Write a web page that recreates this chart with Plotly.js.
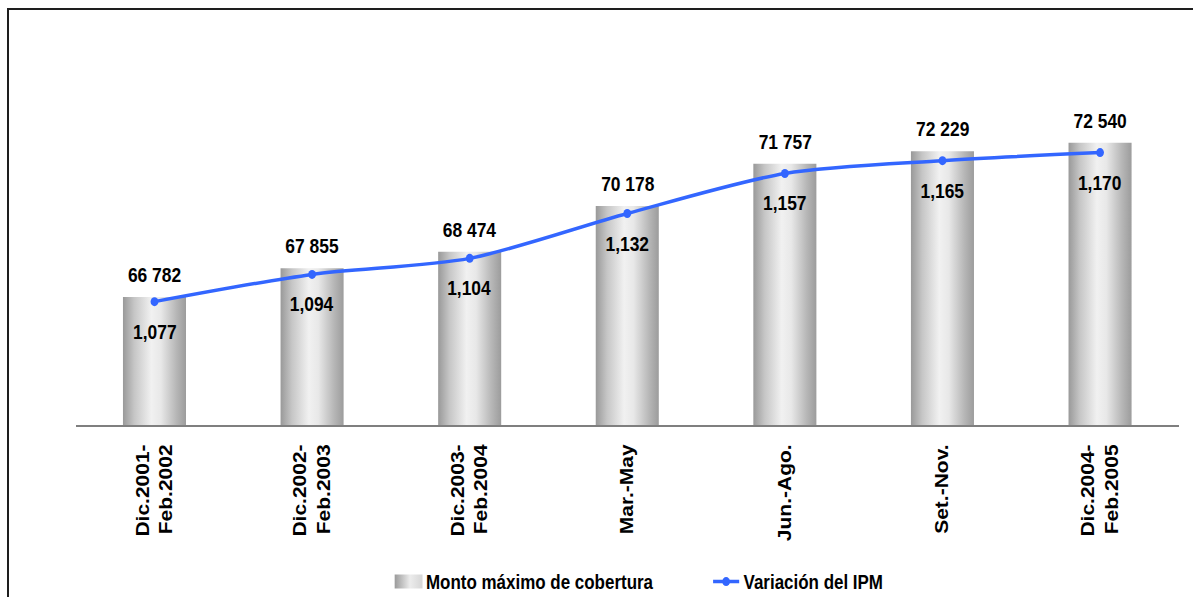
<!DOCTYPE html>
<html>
<head>
<meta charset="utf-8">
<script src="https://cdn.plot.ly/plotly-3.0.1.min.js"></script>
<style>
  html, body { margin: 0; padding: 0; background: #fff; overflow: hidden; }
  #frame { position: absolute; left: 7px; top: 8px; width: 1300px; height: 700px;
           border-left: 2px solid #1e1e1e; border-top: 2px solid #1e1e1e; pointer-events: none; z-index: 2; }
  #wrap { position: absolute; left: 0; top: 0; width: 1371px; height: 597px;
          transform: scaleX(0.87); transform-origin: 0 0; }
</style>
</head>
<body>
<div id="frame"></div>
<div id="wrap"><div id="chart"></div></div>
<script>
// Periods on the horizontal axis
const periods = [
  "Dic.2001-<br>Feb.2002",
  "Dic.2002-<br>Feb.2003",
  "Dic.2003-<br>Feb.2004",
  "Mar.-May",
  "Jun.-Ago.",
  "Set.-Nov.",
  "Dic.2004-<br>Feb.2005"
];
// Maximum coverage amount per period
const montoMaximo = [66782, 67855, 68474, 70178, 71757, 72229, 72540];
// IPM variation index per period
const variacionIPM = [1.077, 1.094, 1.104, 1.132, 1.157, 1.165, 1.170];

const seriesNames = ["Monto máximo de cobertura", "Variación del IPM"];

const fmtMonto = v => String(v).replace(/\B(?=(\d{3})+(?!\d))/g, " ");
const fmtIPM = v => v.toFixed(3).replace(".", ",");

const FONT = "'Liberation Sans', Arial, sans-serif";
const LINE_BLUE = "#3366ff";

const traces = [
  {
    type: "bar",
    name: seriesNames[0],
    x: periods,
    y: montoMaximo,
    width: 0.4,
    marker: { color: "#c8c8c8", line: { width: 0 } },
    hoverinfo: "skip"
  },
  {
    type: "scatter",
    mode: "lines+markers",
    name: seriesNames[1],
    x: periods,
    y: variacionIPM,
    yaxis: "y2",
    line: { color: LINE_BLUE, width: 3.5, shape: "spline", smoothing: 0.8 },
    marker: { color: LINE_BLUE, size: 9 },
    hoverinfo: "skip"
  }
];

const annotations = [];
periods.forEach((p, i) => {
  annotations.push({
    x: p, y: montoMaximo[i], xref: "x", yref: "y",
    text: fmtMonto(montoMaximo[i]), showarrow: false,
    yanchor: "middle", yshift: 22,
    font: { family: FONT, size: 20, weight: 700, color: "#000" }
  });
  annotations.push({
    x: p, y: variacionIPM[i], xref: "x", yref: "y2",
    text: fmtIPM(variacionIPM[i]), showarrow: false,
    yanchor: "middle", yshift: -30,
    font: { family: FONT, size: 20, weight: 700, color: "#000" }
  });
});

const layout = {
  width: 1371,
  height: 597,
  margin: { l: 87, r: 16, t: 77, b: 172, autoexpand: false },
  paper_bgcolor: "rgba(0,0,0,0)",
  plot_bgcolor: "rgba(0,0,0,0)",
  font: { family: FONT, color: "#000" },
  showlegend: true,
  xaxis: {
    type: "category",
    range: [-0.5, 6.5],
    showline: true,
    linecolor: "#7f7f7f",
    linewidth: 2,
    showgrid: false,
    zeroline: false,
    ticks: "",
    tickangle: -90,
    ticklabelstandoff: 9,
    automargin: false,
    tickfont: { family: FONT, size: 21, weight: 700, color: "#000" }
  },
  yaxis: { range: [62000, 75000], visible: false, fixedrange: true },
  yaxis2: { range: [1.0, 1.2172], overlaying: "y", side: "right", visible: false, fixedrange: true },
  legend: {
    orientation: "h",
    x: 0.286, xanchor: "left",
    y: -0.451, yanchor: "middle",
    entrywidth: 320,
    font: { family: FONT, size: 19.5, weight: 700, color: "#000" },
    itemclick: false, itemdoubleclick: false
  },
  annotations: annotations
};

Plotly.newPlot("chart", traces, layout, { staticPlot: true, displayModeBar: false }).then(gd => {
  // Shaded cylinder look for the bars and a matching legend swatch
  const ns = "http://www.w3.org/2000/svg";
  const svg = gd.querySelector(".main-svg");
  let defs = svg.querySelector("defs");
  if (!defs) { defs = document.createElementNS(ns, "defs"); svg.insertBefore(defs, svg.firstChild); }
  const addGrad = (id, stops) => {
    const g = document.createElementNS(ns, "linearGradient");
    g.setAttribute("id", id);
    g.setAttribute("x1", "0"); g.setAttribute("y1", "0");
    g.setAttribute("x2", "1"); g.setAttribute("y2", "0");
    stops.forEach(([o, c]) => {
      const s = document.createElementNS(ns, "stop");
      s.setAttribute("offset", o); s.setAttribute("stop-color", c);
      g.appendChild(s);
    });
    defs.appendChild(g);
  };
  addGrad("barShade", [["0", "#999999"], ["0.18", "#c6c6c6"], ["0.45", "#f1f1f1"], ["0.6", "#e8e8e8"], ["0.85", "#b6b6b6"], ["1", "#9c9c9c"]]);
  addGrad("legendShade", [["0", "#9a9a9a"], ["0.55", "#ececec"], ["1", "#d6d6d6"]]);
  gd.querySelectorAll(".barlayer .point path").forEach(p => { p.style.fill = "url(#barShade)"; });
  gd.querySelectorAll(".legend .traces").forEach((t, i) => {
    if (i === 0) {
      t.querySelectorAll(".legendpoints path").forEach(p => {
        p.setAttribute("d", "M16,7H-16V-7H16Z");
        p.style.fill = "url(#legendShade)";
        p.style.stroke = "none";
      });
    }
  });
});
</script>
</body>
</html>
